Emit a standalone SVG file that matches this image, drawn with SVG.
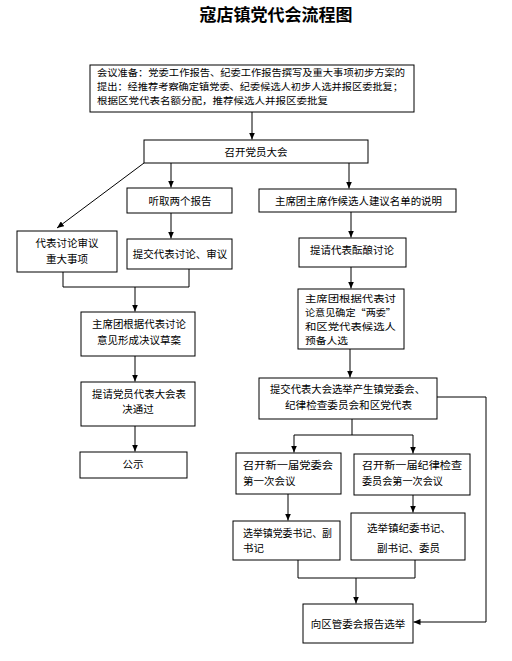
<svg xmlns="http://www.w3.org/2000/svg" width="512" height="661" viewBox="0 0 512 661">
<style>
.box{fill:#fff;stroke:#000;stroke-width:1}
.t{font-family:"Noto Sans CJK SC","Noto Sans CJK JP",sans-serif;font-size:10.5px;fill:#000}
.s{font-size:9.5px}
.c{text-anchor:middle}
.ttl{font-family:"Noto Sans CJK SC","Noto Sans CJK JP",sans-serif;font-size:17px;font-weight:bold;text-anchor:middle;fill:#000}
.ln{fill:none;stroke:#000;stroke-width:1}
.ar{fill:none;stroke:#000;stroke-width:1;marker-end:url(#ah)}
</style>
<defs>
<marker id="ah" markerUnits="userSpaceOnUse" markerWidth="7" markerHeight="6" refX="7" refY="3" orient="auto">
<path d="M0,0 L7,3 L0,6 z" fill="#000"/>
</marker>
</defs>
<rect width="512" height="661" fill="#fff"/>
<text class="ttl" x="276" y="21">寇店镇党代会流程图</text>

<g id="connectors">
<path class="ar" d="M252,112 V139.5"/>
<path class="ar" d="M144,163 L57,228"/>
<path class="ar" d="M171,163 V187.5"/>
<path class="ar" d="M349,163 V188.5"/>
<path class="ar" d="M171,213 V238.5"/>
<path class="ar" d="M351,212 V237.5"/>
<path class="ln" d="M63,272 V287 H189 V269"/>
<path class="ar" d="M135,287 V311.5"/>
<path class="ar" d="M135,356 V381.5"/>
<path class="ar" d="M135,426 V451.5"/>
<path class="ar" d="M351,267 V288.5"/>
<path class="ar" d="M350,349 V377.5"/>
<path class="ln" d="M352,419 V435"/>
<path class="ln" d="M294,435 H413"/>
<path class="ar" d="M294,435 V452.5"/>
<path class="ar" d="M413,435 V453.5"/>
<path class="ar" d="M288,494 V520.5"/>
<path class="ar" d="M413,495 V512.5"/>
<path class="ln" d="M298,560 V578 H415 V560"/>
<path class="ar" d="M356,578 V603.5"/>
<path class="ar" d="M437,397 H486 V622 H413.5"/>
</g>

<g id="prep">
<rect class="box" x="90" y="65" width="324" height="47"/>
<text class="t s" x="97" y="75.5" textLength="308" lengthAdjust="spacingAndGlyphs">会议准备：党委工作报告、纪委工作报告撰写及重大事项初步方案的</text>
<text class="t s" x="97" y="89.5" textLength="306" lengthAdjust="spacingAndGlyphs">提出：经推荐考察确定镇党委、纪委候选人初步人选并报区委批复；</text>
<text class="t s" x="97" y="103.5" textLength="231" lengthAdjust="spacingAndGlyphs">根据区党代表名额分配，推荐候选人并报区委批复</text>
</g>

<g id="congress">
<rect class="box" x="144" y="140" width="224" height="23"/>
<text class="t c" x="256" y="156">召开党员大会</text>
</g>

<g id="reports">
<rect class="box" x="127" y="188" width="105" height="25"/>
<text class="t c" x="180" y="205">听取两个报告</text>
</g>

<g id="presidium-explain">
<rect class="box" x="259" y="189" width="197" height="23"/>
<text class="t" x="275" y="205" textLength="167" lengthAdjust="spacingAndGlyphs">主席团主席作候选人建议名单的说明</text>
</g>

<g id="discuss-major">
<rect class="box" x="17" y="231" width="100" height="41"/>
<text class="t c" x="67" y="247">代表讨论审议</text>
<text class="t c" x="67" y="263">重大事项</text>
</g>

<g id="submit-review">
<rect class="box" x="127" y="239" width="105" height="30"/>
<text class="t c" x="180" y="258">提交代表讨论、审议</text>
</g>

<g id="deliberate">
<rect class="box" x="299" y="238" width="107" height="29"/>
<text class="t c" x="352" y="254">提请代表酝酿讨论</text>
</g>

<g id="draft">
<rect class="box" x="81" y="312" width="114" height="44"/>
<text class="t" x="92" y="328" textLength="94" lengthAdjust="spacingAndGlyphs">主席团根据代表讨论</text>
<text class="t c" x="139" y="344">意见形成决议草案</text>
</g>

<g id="vote">
<rect class="box" x="81" y="382" width="114" height="44"/>
<text class="t" x="92" y="398" textLength="94" lengthAdjust="spacingAndGlyphs">提请党员代表大会表</text>
<text class="t c" x="138" y="413">决通过</text>
</g>

<g id="publicize">
<rect class="box" x="80" y="452" width="107" height="26"/>
<text class="t c" x="133" y="468">公示</text>
</g>

<g id="candidates">
<rect class="box" x="298" y="289" width="106" height="60"/>
<text class="t s" x="305" y="302" textLength="91" lengthAdjust="spacingAndGlyphs">主席团根据代表讨</text>
<text class="t s" x="305" y="316" textLength="91" lengthAdjust="spacingAndGlyphs">论意见确定“两委”</text>
<text class="t s" x="305" y="330" textLength="91" lengthAdjust="spacingAndGlyphs">和区党代表候选人</text>
<text class="t s" x="305" y="344" textLength="43" lengthAdjust="spacingAndGlyphs">预备人选</text>
</g>

<g id="election">
<rect class="box" x="259" y="378" width="178" height="41"/>
<text class="t" x="270" y="393" textLength="155" lengthAdjust="spacingAndGlyphs">提交代表大会选举产生镇党委会、</text>
<text class="t" x="285" y="409" textLength="127" lengthAdjust="spacingAndGlyphs">纪律检查委员会和区党代表</text>
</g>

<g id="party-first">
<rect class="box" x="236" y="453" width="105" height="41"/>
<text class="t" x="243" y="469" textLength="90" lengthAdjust="spacingAndGlyphs">召开新一届党委会</text>
<text class="t" x="243" y="485">第一次会议</text>
</g>

<g id="discipline-first">
<rect class="box" x="354" y="454" width="116" height="41"/>
<text class="t" x="362" y="469" textLength="100" lengthAdjust="spacingAndGlyphs">召开新一届纪律检查</text>
<text class="t" x="362" y="485" textLength="81" lengthAdjust="spacingAndGlyphs">委员会第一次会议</text>
</g>

<g id="party-secretary">
<rect class="box" x="233" y="521" width="107" height="39"/>
<text class="t" x="243" y="537" textLength="89" lengthAdjust="spacingAndGlyphs">选举镇党委书记、副</text>
<text class="t" x="243" y="552">书记</text>
</g>

<g id="discipline-secretary">
<rect class="box" x="351" y="513" width="114" height="47"/>
<text class="t" x="367" y="532">选举镇纪委书记、</text>
<text class="t" x="377" y="552">副书记、委员</text>
</g>

<g id="report">
<rect class="box" x="303" y="604" width="110" height="39"/>
<text class="t c" x="358" y="628">向区管委会报告选举</text>
</g>
</svg>
